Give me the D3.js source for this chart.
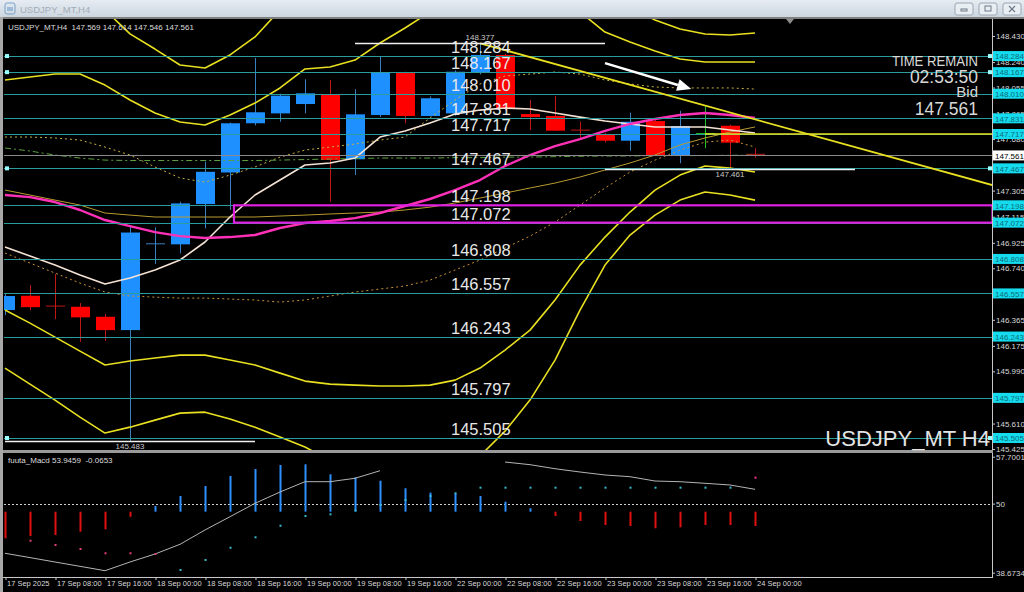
<!DOCTYPE html>
<html><head><meta charset="utf-8">
<script src="https://cdn.jsdelivr.net/npm/d3@7"></script>
<style>
html,body{margin:0;padding:0;background:#000;overflow:hidden}
svg{display:block}
text{font-family:"Liberation Sans",Arial,sans-serif}
</style></head><body>
<svg id="c" width="1024" height="592"></svg>
<script>
// ---------------- DATA ----------------
const symbolTitle = "USDJPY_MT,H4";
const ohlcLegend = "USDJPY_MT,H4  147.569 147.614 147.546 147.561";
const xTickLabels = ["17 Sep 2025","17 Sep 08:00","17 Sep 16:00","18 Sep 00:00","18 Sep 08:00","18 Sep 16:00","19 Sep 00:00","19 Sep 08:00","19 Sep 16:00","22 Sep 00:00","22 Sep 08:00","22 Sep 16:00","23 Sep 00:00","23 Sep 08:00","23 Sep 16:00","24 Sep 00:00"];
const xTickIdx = [0,2,4,6,8,10,12,14,16,18,20,22,24,26,28,30];

const open  = [146.436,146.540,146.465,146.460,146.387,146.290,146.910,146.914,147.207,147.437,147.795,147.867,147.935,148.008,147.533,147.855,148.163,147.848,147.867,148.163,148.292,147.862,147.848,147.745,147.717,147.668,147.811,147.559,147.720,147.777,147.569];
const high  = [146.560,146.618,146.698,146.487,146.407,147.055,147.038,147.224,147.515,147.800,148.270,148.010,148.115,148.110,148.042,148.284,148.170,147.990,148.180,148.377,148.300,147.964,147.993,147.806,147.725,147.872,147.820,147.886,147.916,147.785,147.614];
const low   = [146.400,146.436,146.370,146.205,146.212,145.483,146.771,146.849,147.030,147.164,147.780,147.806,147.867,147.224,147.418,147.840,147.795,147.845,147.850,148.150,147.890,147.746,147.740,147.688,147.655,147.595,147.555,147.504,147.613,147.461,147.546];
const close = [146.538,146.457,146.460,146.383,146.290,147.000,146.918,147.212,147.442,147.795,147.875,147.996,148.013,147.528,147.860,148.163,147.848,147.977,148.170,148.292,147.904,147.840,147.741,147.737,147.668,147.806,147.559,147.775,147.720,147.654,147.561];

// envelope / band lines (price)
const bandOuterUp = [null,null,null,null,148.620,148.445,148.335,148.219,148.197,148.292,148.423,148.620,null,null,null,null,null,null,null,null,null,null,null,null,null,148.630,148.547,148.481,148.445,148.437,148.452];
const bandInnerUp = [148.110,148.132,148.153,148.153,148.073,147.964,147.870,147.804,147.782,147.855,147.942,148.052,148.190,148.204,148.255,148.379,148.488,148.605,null,null,null,null,null,148.605,148.459,148.386,148.321,148.263,148.241,148.241,148.241];
const bandInnerLo = [146.436,146.341,146.239,146.137,146.036,146.065,146.087,146.108,146.108,146.072,146.036,145.977,145.919,145.897,145.890,145.883,145.883,145.890,145.926,146.014,146.145,146.290,146.509,146.763,146.967,147.149,147.309,147.418,147.484,147.469,147.440];
const bandOuterLo = [146.014,145.897,145.781,145.657,145.541,145.584,145.635,145.686,145.693,145.643,145.584,145.512,145.439,145.344,null,null,null,null,null,145.374,145.555,145.781,146.072,146.436,146.763,146.982,147.127,147.236,147.295,147.273,147.236];
// moving averages (price)
const maPink  = [147.273,147.258,147.222,147.164,147.091,147.047,147.003,146.974,146.960,146.967,146.982,147.033,147.069,147.084,147.105,147.142,147.193,147.244,147.309,147.382,147.484,147.564,147.629,147.680,147.739,147.790,147.826,147.855,147.870,147.855,147.833];
const maWhite = [146.894,146.829,146.763,146.691,146.625,146.669,146.727,146.800,146.931,147.113,147.273,147.382,147.491,147.506,147.542,147.695,147.739,147.797,147.862,147.891,147.906,147.899,147.870,147.840,147.811,147.790,147.768,147.768,147.768,147.746,147.724];
const maOlive = [147.309,147.273,147.236,147.200,147.142,147.127,147.113,147.113,147.113,147.113,147.113,147.120,147.127,147.135,147.142,147.149,147.164,147.185,147.215,147.251,147.287,147.324,147.360,147.404,147.455,147.506,147.564,147.637,147.688,147.731,147.768];
const dotUpper = [147.695,147.695,147.688,147.673,147.622,147.564,147.477,147.397,147.367,147.418,147.477,147.549,147.600,147.622,147.644,147.673,147.695,147.833,147.964,148.081,148.139,148.153,148.168,148.153,148.110,148.081,148.059,148.052,148.052,148.052,148.044];
const dotLower = [146.851,146.778,146.705,146.632,146.567,146.538,146.530,146.523,146.523,146.516,146.509,146.494,146.509,146.538,146.567,146.589,146.611,146.654,146.727,146.800,146.887,146.974,147.076,147.200,147.324,147.440,147.527,147.600,147.658,147.673,147.622];
const maGreen = [147.615,147.593,147.564,147.542,147.527,147.524,147.524,147.524,147.524,147.524,147.524,147.527,147.531,147.535,147.538,147.542,147.542,147.542,147.545,147.545,147.549,147.549,147.552,147.555,147.557,147.557,147.560,147.560,147.560,147.562,147.562];

// horizontal levels
const levels = [148.284,148.167,148.010,147.831,147.717,147.467,147.198,147.072,146.808,146.557,146.243,145.797,145.505];
const markedLevels = [148.284,148.167,147.467,145.505];
const priceTicks = [148.430,148.240,148.055,147.865,147.680,147.305,147.115,146.925,146.740,146.365,146.175,145.990,145.610,145.425];
const bidPrice = 147.561;
// annotations (bar index, price)
const whiteSegs = [{i0:14,i1:24,p:148.377,lab:"148.377",li:19,above:true},{i0:0,i1:10,p:145.483,lab:"145.483",li:5,above:false},{i0:24,i1:34,p:147.461,lab:"147.461",li:29,above:false}];
const trendIdx = [19,39.5], trendPx = [148.377,147.345];
const yellowHIdx = [28,39.5], yellowHPx = 147.717;
const boxIdx = [9.16,39.5], boxPx = [147.198,147.072];
const arrowIdx = [24,27.45], arrowPx = [148.233,148.044];

// MACD subwindow
const histBase = 48.68;
const hist = [44.32,44.69,44.86,45.40,45.79,47.86,49.61,51.25,52.89,54.53,55.68,56.34,56.45,54.81,54.32,53.76,52.52,51.80,51.70,51.25,50.32,49.24,47.97,47.15,46.50,46.33,45.96,46.12,46.50,46.50,46.33];
const sig = [null,43.92,43.22,42.56,41.86,41.86,41.74,39.12,40.76,42.77,44.48,46.38,47.97,48.25,48.90,49.78,50.60,51.25,51.70,52.62,52.62,52.62,52.62,52.62,52.62,52.62,52.62,52.62,52.62,52.62,54.26];
const grayLine = [41.86,41.15,40.43,39.72,39.00,40.43,41.74,43.33,45.68,47.86,50.05,51.91,53.60,53.60,54.16,55.40,null,null,null,null,56.83,56.39,55.73,55.19,54.70,54.42,53.71,53.60,53.34,53.06,52.35];
const macdTicks = [57.7001,50,38.6734];
const macdLegend = "fuuta_Macd 53.9459  -0.0653";

// ---------------- DRAW ----------------
const W=1024,H=592, L=4, R=992, MT=19, MB=450, ST=453, SB=577;
const svg = d3.select("#c");
const x = d3.scaleLinear().domain([0,30]).range([5,755]);
const y = d3.scaleLinear().domain([145.425,148.430]).range([449,36]);
const yi = d3.scaleLinear().domain([38.6734,57.7001]).range([572.7,456.7]);

const defs = svg.append("defs");
const grad = defs.append("linearGradient").attr("id","tb").attr("x1",0).attr("y1",0).attr("x2",0).attr("y2",1);
grad.append("stop").attr("offset","0%").attr("stop-color","#e6ecf2");
grad.append("stop").attr("offset","100%").attr("stop-color","#ccd6e0");
defs.append("clipPath").attr("id","cm").append("rect").attr("x",L).attr("y",MT).attr("width",R-L).attr("height",MB-MT);
defs.append("clipPath").attr("id","cs").append("rect").attr("x",L).attr("y",ST).attr("width",R-L).attr("height",SB-ST);

svg.append("rect").attr("width",W).attr("height",H).attr("fill","#000");
// title bar
svg.append("rect").attr("width",W).attr("height",17).attr("fill","url(#tb)");
svg.append("rect").attr("y",17).attr("width",W).attr("height",2).attr("fill","#808080");
svg.append("rect").attr("x",0).attr("y",17).attr("width",3).attr("height",H-17).attr("fill","#a8a8a8");
const icon = svg.append("g");
icon.append("rect").attr("x",5).attr("y",3).attr("width",10).attr("height",11).attr("rx",2).attr("fill","none").attr("stroke","#7aa0c8");
icon.append("rect").attr("x",7).attr("y",7).attr("width",6).attr("height",4).attr("fill","#9dbbd8");
svg.append("text").attr("x",20).attr("y",12.5).attr("font-size",9.5).attr("fill","#a2acb6").text(symbolTitle);
[[955,"min"],[979,"max"],[1003,"close"]].forEach(([bx,k])=>{
  const b=svg.append("g");
  b.append("rect").attr("x",bx).attr("y",3).attr("width",18).attr("height",12).attr("rx",2).attr("fill","#e9eef3").attr("stroke","#9aa6b2");
  if(k==="min") b.append("rect").attr("x",bx+6).attr("y",9).attr("width",6).attr("height",2).attr("fill","none").attr("stroke","#6c7884");
  if(k==="max") b.append("rect").attr("x",bx+6).attr("y",6).attr("width",6).attr("height",5).attr("fill","none").attr("stroke","#6c7884");
  if(k==="close"){b.append("path").attr("d",`M${bx+6},6L${bx+12},12M${bx+12},6L${bx+6},12`).attr("stroke","#6c7884").attr("stroke-width",1.2);}
});
// frame lines
svg.append("line").attr("x1",R+0.5).attr("x2",R+0.5).attr("y1",MT).attr("y2",SB+1).attr("stroke","#c8c8c8");
svg.append("rect").attr("x",3).attr("y",MB).attr("width",R-2).attr("height",3).attr("fill","#9a9a9a");
svg.append("line").attr("x1",3).attr("x2",R+1).attr("y1",SB+0.5).attr("y2",SB+0.5).attr("stroke","#c8c8c8");
// shift marker
svg.append("path").attr("d","M786,19L794,19L790,24Z").attr("fill","#8c8c8c");

// ---- main plot ----
const gm = svg.append("g").attr("clip-path","url(#cm)");
const idx = d3.range(open.length);
const bullC="#1e90ff", bearC="#ff0000";
idx.forEach(i=>{
  const doji = Math.abs(open[i]-close[i])<0.0005;
  const up = close[i]>open[i];
  const bodyCol = doji ? "#22c022" : (up?bullC:bearC);
  const wickCol = doji ? "#22c022" : (up?"#3a7fc0":"#c01818");
  gm.append("line").attr("x1",x(i)+0.5).attr("x2",x(i)+0.5).attr("y1",y(high[i])).attr("y2",y(low[i])).attr("stroke",wickCol).attr("stroke-width",1);
  const yt=y(Math.max(open[i],close[i])), yb=y(Math.min(open[i],close[i]));
  if(yb-yt<1.5){
    gm.append("line").attr("x1",x(i)-9).attr("x2",x(i)+10).attr("y1",yt).attr("y2",yt).attr("stroke",wickCol).attr("stroke-width",1);
  } else {
    gm.append("rect").attr("x",x(i)-9).attr("y",yt).attr("width",19).attr("height",yb-yt).attr("fill",bodyCol);
  }
});
function drawLine(g, data, scale, col, w, dash){
  const ln = d3.line().defined(d=>d!=null).x((d,i)=>x(i)).y(d=>scale(d));
  g.append("path").datum(data).attr("d",ln).attr("fill","none").attr("stroke",col).attr("stroke-width",w).attr("stroke-dasharray",dash||null).attr("stroke-linejoin","round");
}
drawLine(gm,dotLower,y,"#c89038",1,"2,3");
drawLine(gm,dotUpper,y,"#c8b040",1,"2,3");
drawLine(gm,maGreen,y,"#5aa040",1,"6,3,2,3");
drawLine(gm,maOlive,y,"#b89a30",1);
drawLine(gm,maWhite,y,"#f4e2d4",1.6);
drawLine(gm,maPink,y,"#ff30b8",2.4);
drawLine(gm,bandOuterUp,y,"#e8e020",1.6);
drawLine(gm,bandInnerUp,y,"#e8e020",1.6);
drawLine(gm,bandInnerLo,y,"#e8e020",1.6);
drawLine(gm,bandOuterLo,y,"#e8e020",1.6);

levels.forEach(p=>{
  gm.append("line").attr("x1",L).attr("x2",R).attr("y1",Math.round(y(p))+0.5).attr("y2",Math.round(y(p))+0.5).attr("stroke","#2a9c9c").attr("stroke-width",1.2);
});
gm.append("line").attr("x1",L).attr("x2",R).attr("y1",Math.round(y(bidPrice))+0.5).attr("y2",Math.round(y(bidPrice))+0.5).attr("stroke","#8a8a8a").attr("stroke-width",1);
gm.append("line").attr("x1",x(yellowHIdx[0])).attr("x2",x(yellowHIdx[1])).attr("y1",y(yellowHPx)).attr("y2",y(yellowHPx)).attr("stroke","#e8e020").attr("stroke-width",1.6);
gm.append("rect").attr("x",x(boxIdx[0])).attr("y",y(boxPx[0])).attr("width",x(boxIdx[1])-x(boxIdx[0])).attr("height",y(boxPx[1])-y(boxPx[0])).attr("fill","none").attr("stroke","#e020e0").attr("stroke-width",2.2);
gm.append("line").attr("x1",x(trendIdx[0])).attr("x2",x(trendIdx[1])).attr("y1",y(trendPx[0])).attr("y2",y(trendPx[1])).attr("stroke","#e8e020").attr("stroke-width",1.8);
whiteSegs.forEach(s=>{
  gm.append("line").attr("x1",x(s.i0)).attr("x2",x(s.i1)).attr("y1",Math.round(y(s.p))+0.5).attr("y2",Math.round(y(s.p))+0.5).attr("stroke","#f0f0f0").attr("stroke-width",1.6);
  gm.append("text").attr("x",x(s.li)).attr("y",y(s.p)+(s.above?-3:8)).attr("text-anchor","middle").attr("font-size",8).attr("fill","#c8c8c8").text(s.lab);
});
{
  const x1=x(arrowIdx[0]), y1=y(arrowPx[0]), x2=x(arrowIdx[1]), y2=y(arrowPx[1]);
  const a=Math.atan2(y2-y1,x2-x1), hl=14, hw=6;
  const bx=x2-hl*Math.cos(a), by=y2-hl*Math.sin(a);
  gm.append("line").attr("x1",x1).attr("y1",y1).attr("x2",bx).attr("y2",by).attr("stroke","#ffffff").attr("stroke-width",2.5);
  gm.append("path").attr("d",`M${x2},${y2}L${bx-hw*Math.sin(a)},${by+hw*Math.cos(a)}L${bx+hw*Math.sin(a)},${by-hw*Math.cos(a)}Z`).attr("fill","#ffffff");
}
markedLevels.forEach(p=>{
  gm.append("rect").attr("x",L+1).attr("y",y(p)-2).attr("width",4).attr("height",4).attr("fill","#9ff");
  gm.append("rect").attr("x",R-4).attr("y",y(p)-2).attr("width",4).attr("height",4).attr("fill","#9ff");
});
levels.forEach(p=>{
  gm.append("text").attr("x",451).attr("y",y(p)-3).attr("font-size",16.5).attr("fill","#e8e8e8").text(p.toFixed(3));
});
svg.append("text").attr("x",8).attr("y",30).attr("font-size",8).attr("fill","#dcdcdc").attr("xml:space","preserve").style("white-space","pre").text(ohlcLegend);
const tr = svg.append("g").attr("fill","#d8d8d8").attr("text-anchor","end");
tr.append("text").attr("x",978).attr("y",66).attr("font-size",14.5).attr("textLength",86).attr("lengthAdjust","spacingAndGlyphs").text("TIME REMAIN");
tr.append("text").attr("x",978).attr("y",83).attr("font-size",17.5).text("02:53:50");
tr.append("text").attr("x",978).attr("y",96.5).attr("font-size",15).text("Bid");
tr.append("text").attr("x",978).attr("y",115).attr("font-size",17.5).text(bidPrice.toFixed(3));
svg.append("text").attr("x",990).attr("y",446).attr("text-anchor","end").attr("font-size",22).attr("fill","#e4e4e4").text("USDJPY_MT H4");

const pa = svg.append("g").attr("transform",`translate(${R},0)`)
  .call(d3.axisRight(y).tickValues(priceTicks).tickSize(3).tickPadding(1).tickFormat(d3.format(".3f")));
pa.select(".domain").remove();
pa.selectAll("line").attr("stroke","#c8c8c8");
pa.selectAll("text").attr("fill","#d8d8d8").attr("font-size",8).attr("font-family","Liberation Sans, Arial, sans-serif");
levels.forEach(p=>{
  svg.append("rect").attr("x",R+1).attr("y",y(p)-5).attr("width",31).attr("height",10).attr("fill","#14dcee");
  svg.append("text").attr("x",R+3).attr("y",y(p)+3.3).attr("font-size",8).attr("fill","#0a6c78").text(p.toFixed(3));
});
svg.append("rect").attr("x",R+1).attr("y",y(bidPrice)-5).attr("width",31).attr("height",10).attr("fill","#ffffff");
svg.append("text").attr("x",R+3).attr("y",y(bidPrice)+3.3).attr("font-size",8).attr("fill","#000").text(bidPrice.toFixed(3));

// ---- MACD subwindow ----
const gs = svg.append("g").attr("clip-path","url(#cs)");
gs.append("line").attr("x1",L).attr("x2",R).attr("y1",Math.round(yi(50))+0.5).attr("y2",Math.round(yi(50))+0.5).attr("stroke","#d0d0d0").attr("stroke-dasharray","2,2");
idx.forEach(i=>{
  const v=hist[i], up=v>histBase;
  const y0=yi(histBase), y1=yi(v);
  gs.append("rect").attr("x",x(i)-0.5).attr("y",Math.min(y0,y1)).attr("width",2).attr("height",Math.abs(y1-y0)).attr("fill",up?"#2e8fff":"#e01010");
});
drawLine(gs,grayLine,yi,"#b4b4b4",1);
idx.forEach(i=>{
  if(sig[i]==null) return;
  const c = i<=6 ? "#e04070" : (i===30 ? "#ff3090" : "#38b8c8");
  gs.append("rect").attr("x",x(i)-0.5).attr("y",yi(sig[i])-1).attr("width",2).attr("height",2).attr("fill",c);
});
svg.append("text").attr("x",8).attr("y",463).attr("font-size",8).attr("fill","#dcdcdc").attr("xml:space","preserve").style("white-space","pre").text(macdLegend);
const ma = svg.append("g").attr("transform",`translate(${R},0)`)
  .call(d3.axisRight(yi).tickValues(macdTicks).tickSize(3).tickPadding(1).tickFormat(d=>d===50?"50":d3.format(".4f")(d)));
ma.select(".domain").remove();
ma.selectAll("line").attr("stroke","#c8c8c8");
ma.selectAll("text").attr("fill","#d8d8d8").attr("font-size",8).attr("font-family","Liberation Sans, Arial, sans-serif");

const xa = svg.append("g").attr("transform",`translate(0,${SB})`)
  .call(d3.axisBottom(x).tickValues(xTickIdx).tickSize(3).tickFormat((d,k)=>xTickLabels[k]));
xa.select(".domain").remove();
xa.selectAll("line").attr("stroke","#c8c8c8").attr("transform","translate(0.5,0)");
xa.selectAll("text").attr("fill","#d8d8d8").attr("font-size",7.5).attr("text-anchor","start").attr("x",1.5).attr("y",4).attr("dy","0.71em").attr("font-family","Liberation Sans, Arial, sans-serif");
</script>
</body></html>
